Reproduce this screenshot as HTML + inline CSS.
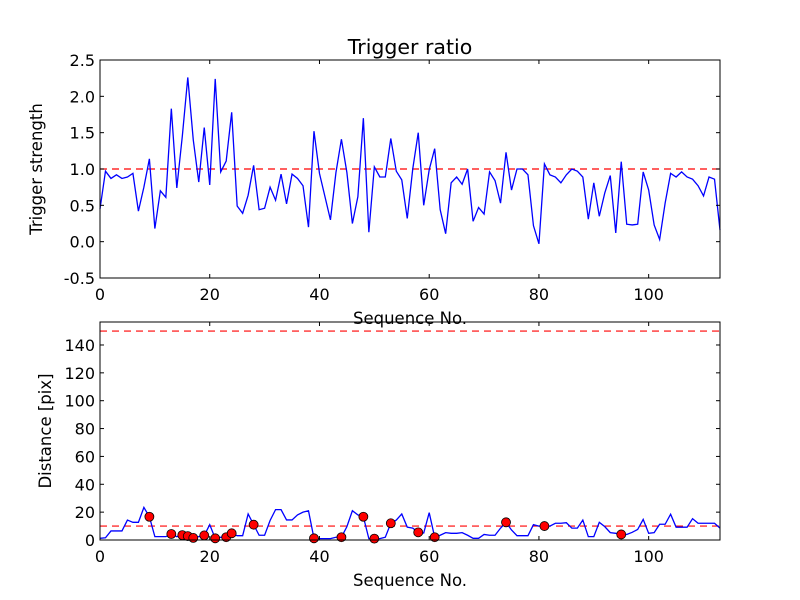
<!DOCTYPE html>
<html><head><meta charset="utf-8"><style>
body{margin:0;background:#fff}
svg{display:block;font-family:"DejaVu Sans","Liberation Sans",sans-serif}
</style></head><body>
<svg id="chart" width="800" height="600" viewBox="0 0 800 600">
<rect width="800" height="600" fill="#fff"/>
</svg>
<script>
const ratioValues=[0.45,0.97,0.87,0.92,0.87,0.89,0.94,0.42,0.75,1.14,0.18,0.70,0.61,1.83,0.74,1.45,2.26,1.40,0.82,1.57,0.78,2.24,0.96,1.11,1.78,0.49,0.39,0.64,1.05,0.44,0.46,0.75,0.57,0.93,0.52,0.93,0.87,0.77,0.20,1.52,0.94,0.62,0.30,0.95,1.41,0.95,0.25,0.62,1.70,0.13,1.03,0.89,0.89,1.42,0.97,0.85,0.32,1.0,1.50,0.50,0.99,1.28,0.44,0.11,0.81,0.89,0.79,1.0,0.28,0.47,0.38,0.96,0.84,0.53,1.23,0.71,1.0,1.0,0.92,0.22,-0.03,1.07,0.92,0.89,0.81,0.92,1.0,0.97,0.89,0.31,0.81,0.35,0.67,0.91,0.12,1.10,0.24,0.23,0.24,0.96,0.71,0.23,0.03,0.53,0.94,0.89,0.96,0.89,0.86,0.77,0.63,0.89,0.86,0.16];
const distValues=[1.2,1.6,6.5,6.5,6.5,14.3,12.7,12.7,23.4,16.7,2.4,2.4,2.4,4.3,2.4,3.5,2.8,1.5,2.4,3.3,11,1.2,2,2,4.8,3.1,3.1,18.7,11,3.4,3.4,14,21.8,21.8,14.4,14.4,18,20,21,1.2,1,1,1,2,2,9.6,21,18,16.7,1,1,1,2,12,14.3,18.7,9.2,8.5,5.5,5,19.6,2,3.4,5.3,4.8,4.8,5.3,3.4,1.2,1.2,4,3.4,3.4,8.5,12.7,7.2,3.1,3.1,3.1,11,10,10,10,12,12,12.4,8.5,8.5,14.3,2.4,2.4,12.7,9.6,5.3,4.8,4,4,5.5,7.6,14.8,4.8,5.3,11.3,11.3,18.5,9.2,9.2,9.2,15.3,12,12,12,12,8.5];
const dotIndices=[9,13,15,16,17,19,21,23,24,28,39,44,48,50,53,58,61,74,81,95];
const dotValues=[16.7,4.3,3.5,2.8,1.5,3.3,1.2,2,4.8,11,1.2,2,16.7,1,12,5.5,2,12.7,10,4];
const topYTicks=[-0.5,0,0.5,1,1.5,2,2.5];
const botYTicks=[0,20,40,60,80,100,120,140];
const xTicks=[0,20,40,60,80,100];
const ratioThreshold=1.0;
const distThresholds=[150,10];

const NS="http://www.w3.org/2000/svg";
const svg=document.getElementById('chart');
function mk(t,a,p){const e=document.createElementNS(NS,t);for(const k in a)e.setAttribute(k,a[k]);(p||svg).appendChild(e);return e;}
const X0=100,X1=720,XMAX=113;
const xs=v=>X0+(X1-X0)*v/XMAX;
const topAx={y0:278,y1:60,min:-0.5,max:2.5};
const botAx={y0:540,y1:322,min:0,max:156.5};
const ys=(ax,v)=>ax.y0-(ax.y0-ax.y1)*(v-ax.min)/(ax.max-ax.min);

function axes(ax,yt,fmt,name){
  const g=mk('g',{});
  
  
  xTicks.forEach(t=>{
    const x=xs(t);
    const l1=mk('line',{x1:x,x2:x,y1:ax.y0,y2:ax.y0-4,stroke:'#000'},g);
    
    
    const l2=mk('line',{x1:x,x2:x,y1:ax.y1,y2:ax.y1+4,stroke:'#000'},g);
    
    
    const tx=mk('text',{x:x,y:ax.y0+22,'text-anchor':'middle','font-size':16},g);
    tx.textContent=t;
    
    
  });
  yt.forEach(t=>{
    const y=ys(ax,t);
    const l1=mk('line',{x1:X0,x2:X0+4,y1:y,y2:y,stroke:'#000'},g);
    
    
    const l2=mk('line',{x1:X1,x2:X1-4,y1:y,y2:y,stroke:'#000'},g);
    
    
    const tx=mk('text',{x:X0-5,y:y+6,'text-anchor':'end','font-size':16},g);
    tx.textContent=fmt(t);
    
    
  });
  return g;
}
function hline(ax,v,name){
  const l=mk('line',{x1:X0,x2:X1,y1:ys(ax,v),y2:ys(ax,v),stroke:'#f00','stroke-width':1.2,'stroke-dasharray':'7,5'});
  
  
}
function series(ax,vals,name){
  const p=mk('polyline',{points:vals.map((v,i)=>xs(i)+','+ys(ax,v)).join(' '),fill:'none',stroke:'#00f','stroke-width':1.3});
  
  
}
hline(topAx,ratioThreshold,'ratio-threshold-line');
series(topAx,ratioValues,'trigger-strength-line');
axes(topAx,topYTicks,t=>t.toFixed(1),'top-axes');
const f1=mk('rect',{x:X0,y:topAx.y1,width:X1-X0,height:topAx.y0-topAx.y1,fill:'none',stroke:'#000'});


distThresholds.forEach(v=>hline(botAx,v,'distance-threshold-line'));
series(botAx,distValues,'distance-line');
dotIndices.forEach((ix,k)=>{
  const c=mk('circle',{cx:xs(ix),cy:ys(botAx,dotValues[k]),r:4.5,fill:'#f00',stroke:'#000','stroke-width':0.8});
  
  
});
axes(botAx,botYTicks,t=>String(t),'bottom-axes');
const f2=mk('rect',{x:X0,y:botAx.y1,width:X1-X0,height:botAx.y0-botAx.y1,fill:'none',stroke:'#000'});


function txt(x,y,s,size,name,rot){
  const a={x:x,y:y,'text-anchor':'middle','font-size':size};
  if(rot)a.transform='rotate(-90 '+x+' '+y+')';
  const t=mk('text',a);t.textContent=s;
  
  
}
txt(410,54,'Trigger ratio',20.5,'chart-title');
txt(410,324,'Sequence No.',16.5,'top-x-axis-title');
txt(410,586,'Sequence No.',16.5,'bottom-x-axis-title');
txt(42,169,'Trigger strength',16.5,'top-y-axis-title',true);
txt(51,431,'Distance [pix]',16.5,'bottom-y-axis-title',true);
</script>
</body></html>
